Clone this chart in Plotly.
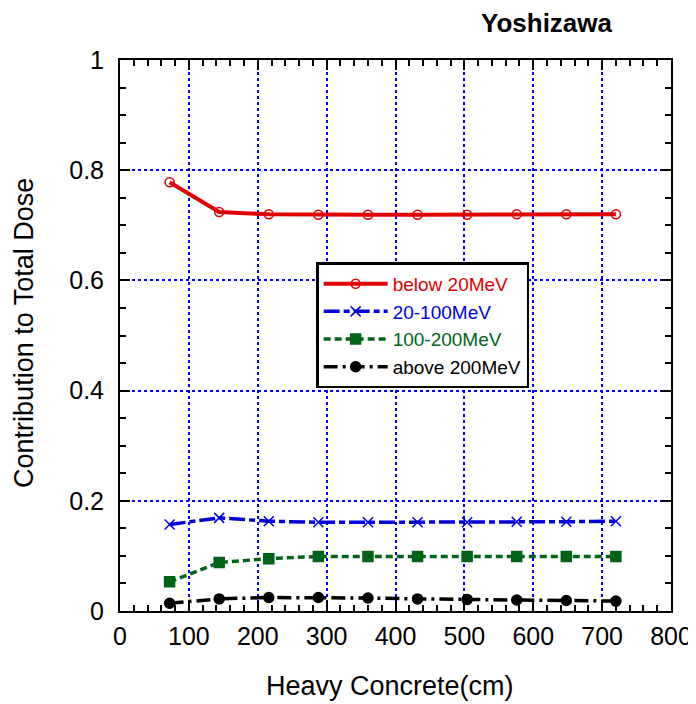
import plotly.graph_objects as go

thickness = [72, 144, 216, 288, 360, 432, 504, 576, 648, 720]
below_20 = [0.778, 0.724, 0.720, 0.719, 0.719, 0.719, 0.719, 0.720, 0.720, 0.720]
mev_20_100 = [0.157, 0.169, 0.163, 0.161, 0.161, 0.161, 0.161, 0.162, 0.162, 0.163]
mev_100_200 = [0.053, 0.088, 0.095, 0.099, 0.099, 0.099, 0.099, 0.099, 0.099, 0.099]
above_200 = [0.014, 0.022, 0.0245, 0.0245, 0.0235, 0.022, 0.021, 0.020, 0.019, 0.018]

names = ["below 20MeV", "20-100MeV", "100-200MeV", "above 200MeV"]
colors = ["#e00000", "#0000dd", "#006418", "#000000"]

FONT = "Liberation Sans, Arial, sans-serif"

fig = go.Figure()
series = [below_20, mev_20_100, mev_100_200, above_200]
dashes = ["solid", "16px,4px,6px,4px", "7px,4px", "14px,5px,3px,5px"]
symbols = ["circle-open", "x-thin-open", "square", "circle"]
msizes = [9, 10, 10, 10]
for ys, name, c, d, s, ms in zip(series, names, colors, dashes, symbols, msizes):
    fig.add_trace(go.Scatter(
        x=thickness, y=ys, mode="lines+markers",
        name=f"<span style='color:{c}'>{name}</span>",
        line=dict(color=c, width=4 if name == names[0] else 3.5, dash=d),
        marker=dict(symbol=s, size=ms, color=c, line=dict(color=c, width=1.5)),
    ))

axis_common = dict(
    showline=True, linecolor="black", linewidth=2, mirror="ticks",
    ticks="inside", ticklen=10, tickwidth=2, tickcolor="black",
    showgrid=True, gridcolor="#0000ee", gridwidth=2, griddash="dot",
    zeroline=False, automargin=False,
    tickfont=dict(family=FONT, size=25, color="black"),
)

fig.update_xaxes(
    range=[0, 800], dtick=100, tick0=0,
    minor=dict(dtick=20, ticks="inside", ticklen=6, tickwidth=2, tickcolor="black", showgrid=False),
    ticklabelstandoff=2,
    **axis_common,
)
fig.update_yaxes(
    range=[0, 1], dtick=0.2, tick0=0,
    minor=dict(dtick=0.05, ticks="inside", ticklen=6, tickwidth=2, tickcolor="black", showgrid=False),
    ticklabelstandoff=9,
    **axis_common,
)

# plot area in screen px: left 119.5, right 671.5, top 59.5, bottom 611 (page has 8px body margin)
L, R, T, B = 119.5, 671.5, 59.5, 611.0
def px(xp):
    return (xp - L) / (R - L)
def py(yp):
    return (B - yp) / (B - T)

fig.add_annotation(text="<b>Yoshizawa</b>", x=px(547.5), y=py(22), xref="paper", yref="paper",
                   xanchor="center", yanchor="middle", showarrow=False,
                   font=dict(family=FONT, size=26, color="black"))
fig.add_annotation(text="Heavy Concrete(cm)", x=px(390), y=py(686), xref="paper", yref="paper",
                   xanchor="center", yanchor="middle", showarrow=False,
                   font=dict(family=FONT, size=27, color="black"))
fig.add_annotation(text="Contribution to Total Dose", x=px(24), y=py(333), xref="paper", yref="paper",
                   xanchor="center", yanchor="middle", showarrow=False, textangle=-90,
                   font=dict(family=FONT, size=27, color="black"))

W, H = 688, 696
fig.update_layout(
    width=W, height=H,
    margin=dict(l=L - 8, r=W - (R - 8), t=T - 8, b=H - (B - 8)),
    plot_bgcolor="white", paper_bgcolor="white",
    font=dict(family=FONT, color="black"),
    showlegend=True,
    legend=dict(
        x=px(316), y=py(262), xanchor="left", yanchor="top",
        bgcolor="white", bordercolor="black", borderwidth=2.5,
        font=dict(family=FONT, size=19),
        tracegroupgap=0, itemwidth=64,
    ),
)

fig.write_html("out.html")
